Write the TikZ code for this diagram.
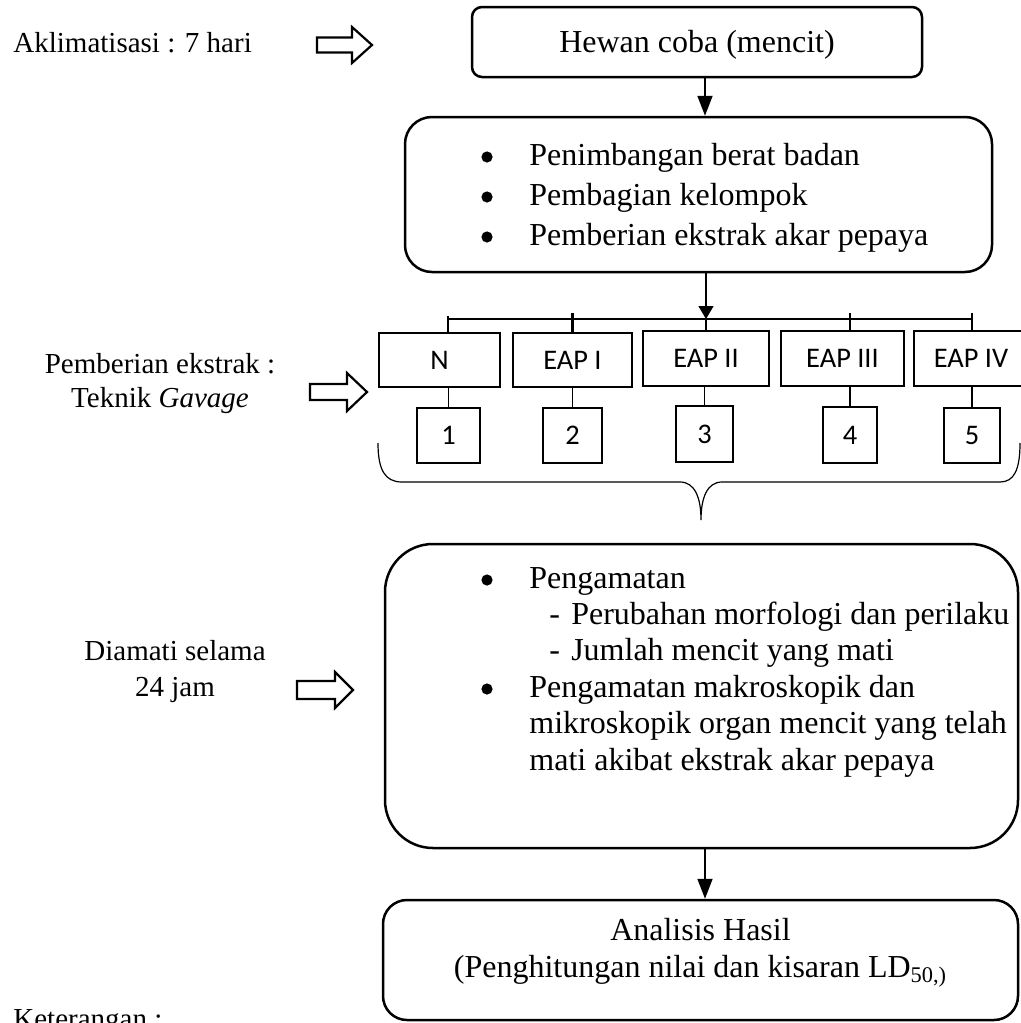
\documentclass[tikz,border=0pt]{standalone}
\usepackage{fontspec}
\setmainfont{Liberation Serif}
\newfontfamily\calib{Carlito}
\usetikzlibrary{arrows.meta,calc}
\begin{document}
\begin{tikzpicture}[x=0.5pt,y=-0.5pt,
  rbox/.style={draw,line width=1.25pt,inner sep=0pt,rounded corners=#1},
  sbox/.style={draw,line width=1.1pt,inner sep=0pt,font=\calib\fontsize{14.2}{17}\selectfont},
  txt/.style={inner sep=0pt,font=\fontsize{16}{19}\selectfont},
  lbl/.style={inner sep=0pt,font=\fontsize{14.5}{17}\selectfont},
  dot/.style={circle,fill,inner sep=0pt,minimum size=5.6pt},
  thinln/.style={line width=0.65pt},
  thickln/.style={line width=1.2pt},
  arrbig/.style={-{Triangle[length=10pt,width=7.5pt]},line width=0.9pt},
  arrsmall/.style={-{Triangle[length=6.5pt,width=7.5pt]},line width=0.65pt},
  hollow/.style={draw,line width=1.1pt,line join=miter}
]
\useasboundingbox (0,0) rectangle (1021,1023);
\clip (0,0) rectangle (1021,1023);

% left labels
\node[lbl,anchor=base west] (akl) at (13,52) {Aklimatisasi : 7 hari};
\node[lbl,anchor=base] (pe1) at (160,373) {Pemberian ekstrak :};
\node[lbl,anchor=base] (pe2) at (160,407) {Teknik \textit{Gavage}};
\node[lbl,anchor=base] (di1) at (175,660) {Diamati selama};
\node[lbl,anchor=base] (di2) at (175,696) {24 jam};
\node[lbl,anchor=base west] (ket) at (13,1028) {Keterangan :};

% hollow arrows
\draw[hollow] (317,37.5) -- (352,37.5) -- (352,27) -- (372,45) -- (352,63) -- (352,52.5) -- (317,52.5) -- cycle;
\draw[hollow] (310,384) -- (347,384) -- (347,373) -- (367,392) -- (347,411) -- (347,400) -- (310,400) -- cycle;
\draw[hollow] (297,681) -- (335,681) -- (335,672) -- (353,690) -- (335,708) -- (335,699) -- (297,699) -- cycle;

% boxes
\node[rbox=5pt,minimum width=225pt,minimum height=35pt] (hewan) at (697,42) {};
\node[txt,anchor=base] (hewant) at (697,52) {Hewan coba (mencit)};

\node[rbox=13.5pt,minimum width=293.5pt,minimum height=77.5pt] (timbang) at (698.5,194.5) {};
\node[dot] (bu1) at (487,157) {};
\node[txt,anchor=base west] (tt1) at (529,165) {Penimbangan berat badan};
\node[dot] (bu2) at (487,197) {};
\node[txt,anchor=base west] (tt2) at (529,205) {Pembagian kelompok};
\node[dot] (bu3) at (487,237) {};
\node[txt,anchor=base west] (tt3) at (529,245) {Pemberian ekstrak akar pepaya};

\node[sbox,minimum width=60.5pt,minimum height=27pt] (n) at (439.5,360) {N};
\node[sbox,minimum width=59.5pt,minimum height=27pt] (e1) at (572.5,360) {EAP I};
\node[sbox,minimum width=63pt,minimum height=27.5pt] (e2) at (706,358.5) {EAP II};
\node[sbox,minimum width=61.5pt,minimum height=27.5pt] (e3) at (842.5,358.5) {EAP III};
\node[sbox,minimum width=57pt,minimum height=27.5pt] (e4) at (971,358.5) {EAP IV};

\node[sbox,minimum width=31.5pt,minimum height=27.5pt] (b1) at (448.5,435.5) {1};
\node[sbox,minimum width=29.5pt,minimum height=27.5pt] (b2) at (572.5,435.5) {2};
\node[sbox,minimum width=28.5pt,minimum height=28pt] (b3) at (704.5,434) {3};
\node[sbox,minimum width=27pt,minimum height=28pt] (b4) at (850,435) {4};
\node[sbox,minimum width=28pt,minimum height=27.5pt] (b5) at (972,435.5) {5};

\node[rbox=24pt,minimum width=316.5pt,minimum height=152pt] (amati) at (701.5,696) {};
\node[dot] (cu1) at (487,580) {};
\node[txt,anchor=base west] (ct1) at (529,588) {Pengamatan};
\node[txt,anchor=base west] (ct2) at (549,624) {-\hspace{0.35em}Perubahan morfologi dan perilaku};
\node[txt,anchor=base west] (ct3) at (549,660) {-\hspace{0.35em}Jumlah mencit yang mati};
\node[dot] (cu2) at (487,689) {};
\node[txt,anchor=base west] (ct4) at (529,697) {Pengamatan makroskopik dan};
\node[txt,anchor=base west] (ct5) at (529,733) {mikroskopik organ mencit yang telah};
\node[txt,anchor=base west] (ct6) at (529,770) {mati akibat ekstrak akar pepaya};

\node[rbox=12pt,minimum width=317.5pt,minimum height=60pt] (hasil) at (700.5,960) {};
\node[txt,anchor=base] (ht1) at (700.5,940) {Analisis Hasil};
\node[txt,anchor=base] (ht2) at (700.5,977) {(Penghitungan nilai dan kisaran LD\textsubscript{50,)}};

% connectors
\coordinate (barL) at (448,319);
\coordinate (barR) at (972,319);
\draw[arrbig] ([xshift=4pt]hewan.south) -- ([xshift=4pt]hewan.south |- timbang.north);
\draw[arrsmall] (e2.north |- timbang.south) -- (e2.north |- barL);
\draw[thinln] (barL) -- (barR);
\draw[thinln] ([yshift=1.5pt]barL) -- (barL |- n.north);
\draw[thickln] ([yshift=3pt]e1.north |- barL) -- (e1.north);
\draw[thickln] (e2.north |- barL) -- (e2.north);
\draw[thinln] ([yshift=3pt]b4.north |- barL) -- (b4.north |- e3.north);
\draw[thinln] ([yshift=3pt]barR) -- (barR |- e4.north);

\draw[thinln] (b1.north |- n.south) -- (b1.north);
\draw[thinln] (e1.south) -- (b2.north);
\draw[thinln] (b3.north |- e2.south) -- (b3.north);
\draw[thickln] (b4.north |- e3.south) -- (b4.north);
\draw[thinln] (b5.north |- e4.south) -- (b5.north);

% brace
\draw[line width=0.6pt] (378,443) .. controls (378,470) and (385,482) .. (402,482) -- (680,482)
  .. controls (695,482) and (701,498) .. (701,520)
  .. controls (701,498) and (707,482) .. (722,482) -- (1000,482)
  .. controls (1014,482) and (1020,470) .. (1020,443);

\draw[arrbig] ([xshift=1.75pt]amati.south) -- ([xshift=1.75pt]amati.south |- hasil.north);
\end{tikzpicture}
\end{document}
